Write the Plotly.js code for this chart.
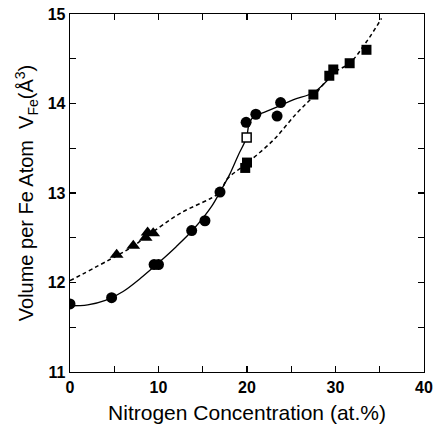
<!DOCTYPE html>
<html><head><meta charset="utf-8">
<script src="https://cdn.plot.ly/plotly-3.0.1.min.js"></script>
<style>html,body{margin:0;padding:0;background:#fff}#chart{width:440px;height:430px}</style>
</head><body><div id="chart"></div>
<script>
// Data
const circleX = [0, 4.7, 9.5, 10.0, 13.75, 15.25, 16.95, 19.9, 21.0, 23.4, 23.8];
const circleY = [11.76, 11.83, 12.20, 12.20, 12.58, 12.69, 13.01, 13.79, 13.88, 13.86, 14.01];
const openSqX = [19.96];
const openSqY = [13.62];
const squareX = [19.8, 20.0, 27.5, 29.3, 29.75, 31.6, 33.5];
const squareY = [13.28, 13.34, 14.10, 14.31, 14.38, 14.45, 14.60];
const triX = [5.27, 7.15, 8.55, 8.77, 9.4];
const triY = [12.31, 12.41, 12.50, 12.56, 12.55];
// guide curves
const solidX = [0, 2, 4, 6, 8, 10, 12, 14, 16, 17, 18, 19, 19.95, 20.2, 20.6, 21.0, 21.6, 23.35, 25.2, 27.5, 28.6, 29.4, 29.8];
const solidY = [11.74, 11.75, 11.8, 11.9, 12.05, 12.22, 12.4, 12.6, 12.85, 13.02, 13.2, 13.42, 13.62, 13.76, 13.84, 13.87, 13.89, 13.96, 14.04, 14.12, 14.21, 14.30, 14.39];
const dashX = [0, 5.3, 7.2, 9.0, 12.4, 16.95, 17.7, 19.96, 22.97, 25.6, 27.5, 29.75, 31.6, 33.5, 35.2];
const dashY = [12.02, 12.30, 12.41, 12.54, 12.77, 13.01, 13.15, 13.33, 13.59, 13.89, 14.08, 14.34, 14.45, 14.69, 14.95];

const font = 'Liberation Sans, Arial, sans-serif';
const traces = [
  {x: solidX, y: solidY, mode: 'lines', line: {color: '#000', width: 1.3, shape: 'spline'}, hoverinfo: 'skip'},
  {x: dashX, y: dashY, mode: 'lines', line: {color: '#000', width: 1.5, dash: '4px,3px', shape: 'spline'}, hoverinfo: 'skip'},
  {x: circleX, y: circleY, mode: 'markers', marker: {symbol: 'circle', size: 11, color: '#000'}},
  {x: triX, y: triY, mode: 'markers', marker: {symbol: 'triangle-up', size: 12, color: '#000'}},
  {x: squareX, y: squareY, mode: 'markers', marker: {symbol: 'square', size: 10, color: '#000'}},
  {x: openSqX, y: openSqY, mode: 'markers', marker: {symbol: 'square', size: 9, color: '#fff', line: {color: '#000', width: 1.5}}}
];
const axisCommon = {
  showgrid: false, zeroline: false, showline: true, linecolor: '#000', linewidth: 1.3,
  mirror: 'ticks', ticks: 'inside', ticklen: 6, tickwidth: 1.2, tickcolor: '#000',
  tickfont: {family: font, size: 16, color: '#000', weight: 'bold'}
};
const layout = {
  width: 440, height: 430,
  margin: {l: 70, r: 16, t: 14, b: 58},
  paper_bgcolor: '#fff', plot_bgcolor: '#fff',
  showlegend: false,
  xaxis: Object.assign({}, axisCommon, {
    range: [0, 40], dtick: 10, tick0: 0,
    minor: {dtick: 5, ticks: 'inside', ticklen: 6, tickwidth: 1.2, tickcolor: '#000'},
    title: {text: 'Nitrogen Concentration (at.%)', font: {family: font, size: 21, color: '#000'}, standoff: 10}
  }),
  yaxis: Object.assign({}, axisCommon, {
    range: [11, 15], dtick: 1, tick0: 11,
    minor: {dtick: 0.5, ticks: 'inside', ticklen: 6, tickwidth: 1.2, tickcolor: '#000'},
    title: {text: 'Volume per Fe Atom  V<sub>Fe</sub>(Å<sup>3</sup>)', font: {family: font, size: 20, color: '#000'}, standoff: 8}
  })
};
Plotly.newPlot('chart', traces, layout, {displayModeBar: false, staticPlot: true});
</script>
</body></html>
